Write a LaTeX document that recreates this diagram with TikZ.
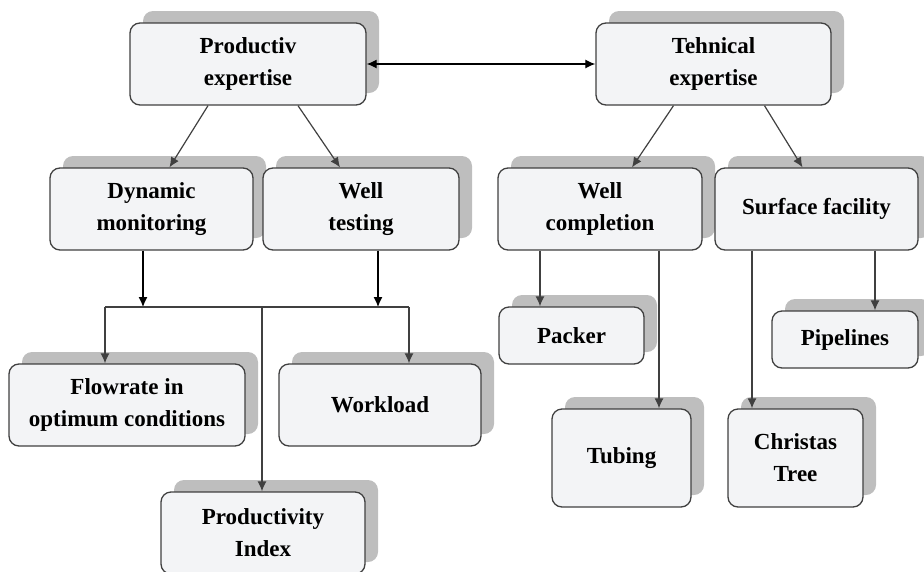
\documentclass[tikz,border=0pt]{standalone}
\usepackage{fontspec}
\setmainfont{Liberation Serif}
\usetikzlibrary{shadows,arrows.meta}

\definecolor{boxfill}{RGB}{243,244,246}
\definecolor{boxline}{RGB}{64,64,64}
\definecolor{shadowgray}{RGB}{190,190,190}

\begin{document}
\begin{tikzpicture}[x=1pt,y=1pt,yscale=-1,xscale=1,
	box/.style={draw=boxline,line width=1.3pt,fill=boxfill,rounded corners=10pt,align=center,
		font=\fontsize{23}{32}\selectfont\bfseries,inner sep=2pt,
		drop shadow={shadow xshift=13pt,shadow yshift=12pt,fill=shadowgray,opacity=1}},
	conn/.style={draw=boxline,line width=1.2pt,-{Latex[length=10pt,width=9pt]}}]
	\useasboundingbox (0,0) rectangle (924,571);
	% top level
	\node[box,minimum width=236pt,minimum height=82pt] (prod) at (248,64) {Productiv\\expertise};
	\node[box,minimum width=235pt,minimum height=82pt] (tech) at (713.5,64) {Tehnical\\expertise};
	% second level
	\node[box,minimum width=203pt,minimum height=82pt] (dyn) at (151.5,209) {Dynamic\\monitoring};
	\node[box,minimum width=196pt,minimum height=82pt] (wtest) at (361,209) {Well\\testing};
	\node[box,minimum width=204pt,minimum height=82pt] (wcomp) at (600,209) {Well\\completion};
	\node[box,minimum width=203pt,minimum height=82pt] (surf) at (816.5,209) {Surface facility};
	% third level
	\node[box,minimum width=236pt,minimum height=82pt] (flow) at (127,405) {Flowrate in\\optimum conditions};
	\node[box,minimum width=202pt,minimum height=82pt] (work) at (380,405) {Workload};
	\node[box,minimum width=204pt,minimum height=82pt] (pindex) at (263,533) {Productivity\\Index};
	\node[box,minimum width=145pt,minimum height=57pt] (packer) at (571.5,335.5) {Packer};
	\node[box,minimum width=146pt,minimum height=57pt] (pipe) at (845,339.5) {Pipelines};
	\node[box,minimum width=139pt,minimum height=98pt] (tubing) at (621.5,458) {Tubing};
	\node[box,minimum width=135pt,minimum height=98pt] (tree) at (795.5,458) {Christas\\Tree};
	% bus line
	\coordinate (busl) at (105,307);
	\coordinate (busr) at (409,307);
	\coordinate (busm) at (262,307);
	% connectors
	\draw[line width=1.2pt,{Latex[length=10pt,width=9pt]}-{Latex[length=10pt,width=9pt]}] (prod.east) -- (tech.west);
	\draw[conn] ([xshift=-40pt]prod.south) -- ([xshift=18pt]dyn.north);
	\draw[conn] ([xshift=50pt]prod.south) -- ([xshift=-21pt]wtest.north);
	\draw[conn] ([xshift=-40pt]tech.south) -- ([xshift=32pt]wcomp.north);
	\draw[conn] ([xshift=51pt]tech.south) -- ([xshift=-14pt]surf.north);
	\draw[conn,draw=black] ([xshift=-8.5pt]dyn.south) -- ([xshift=-8.5pt]dyn.south |- busl);
	\draw[conn,draw=black] ([xshift=17pt]wtest.south) -- ([xshift=17pt]wtest.south |- busr);
	\draw[draw=boxline,line width=1.2pt] (busl) -- (busr);
	\draw[conn] (busl) -- (busl |- flow.north);
	\draw[conn] (busr) -- (busr |- work.north);
	\draw[conn] (busm) -- (busm |- pindex.north);
	\draw[conn] ([xshift=-60pt]wcomp.south) -- ([xshift=-60pt]wcomp.south |- packer.north);
	\draw[conn] ([xshift=59pt]wcomp.south) -- ([xshift=59pt]wcomp.south |- tubing.north);
	\draw[conn] ([xshift=-64.5pt]surf.south) -- ([xshift=-64.5pt]surf.south |- tree.north);
	\draw[conn] ([xshift=58.5pt]surf.south) -- ([xshift=58.5pt]surf.south |- pipe.north);
\end{tikzpicture}
\end{document}
